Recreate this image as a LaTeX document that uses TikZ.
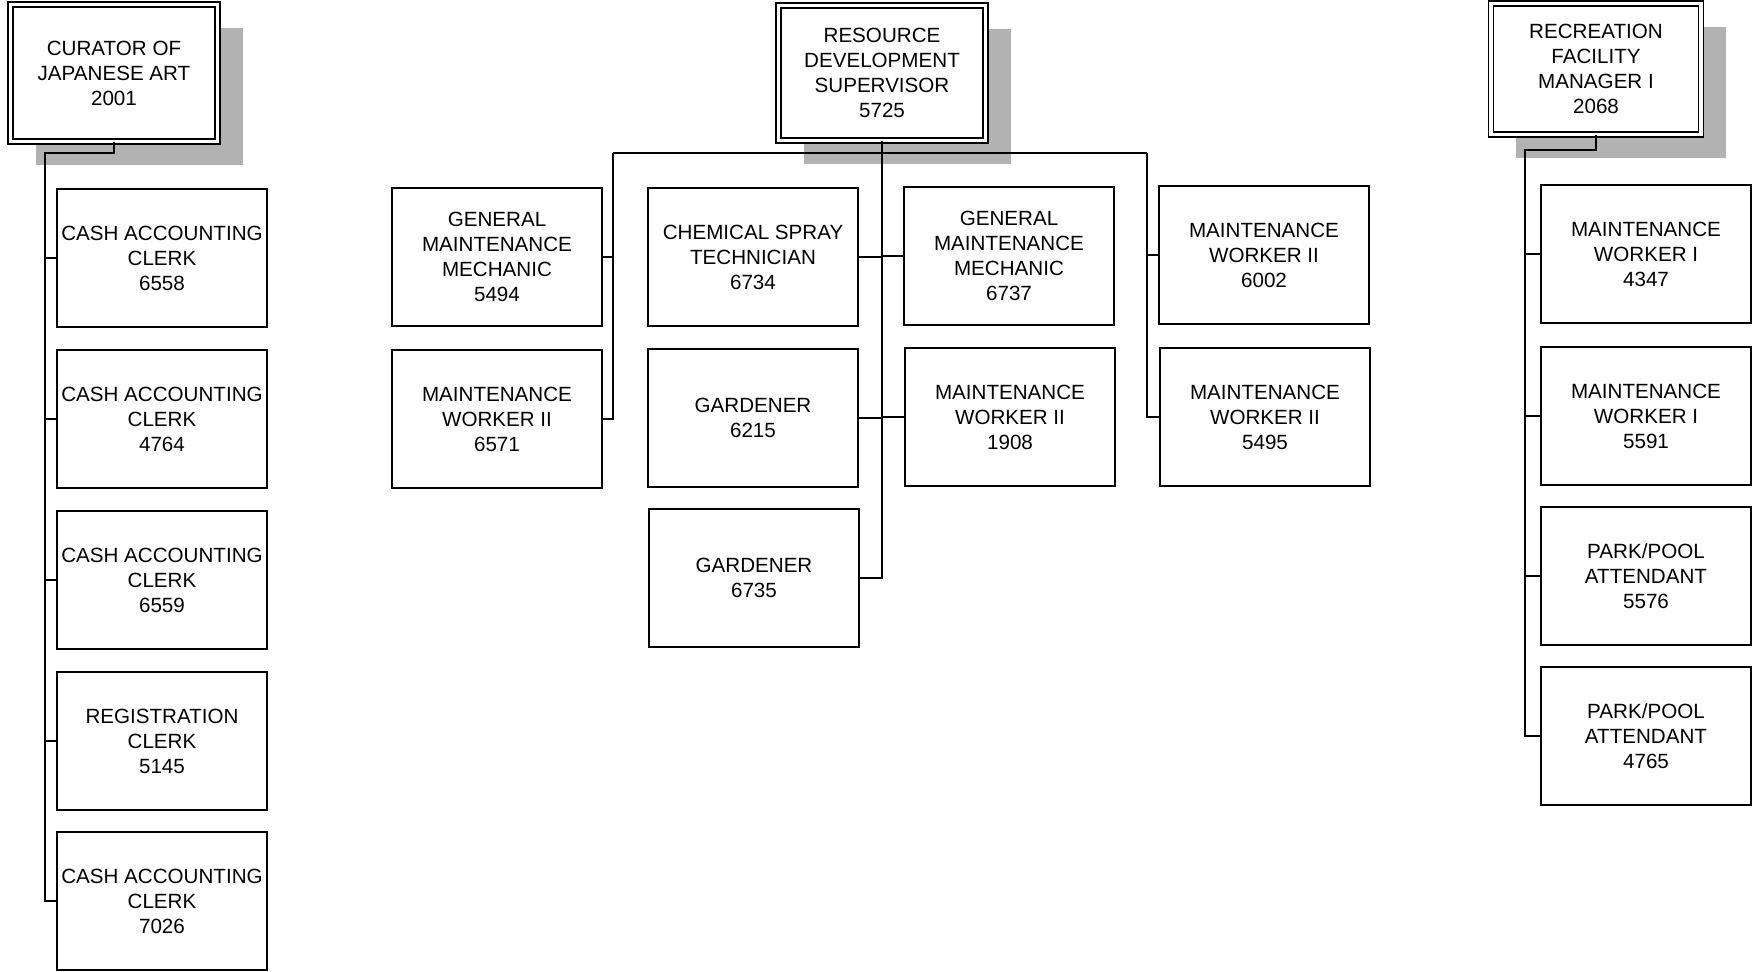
\documentclass[tikz,border=0pt]{standalone}
\usepackage{fontspec}
\setmainfont{Liberation Sans}
\usetikzlibrary{shadows}

\begin{document}
\begin{tikzpicture}[x=0.5pt,y=-0.5pt,line width=0.65pt,font=\fontsize{10.3}{12.5}\selectfont]
\tikzstyle{head}=[draw,double,double distance=1.9pt,line width=0.6pt,fill=white,align=center,inner sep=0pt,
  drop shadow={shadow xshift=12.5pt,shadow yshift=-11.5pt,fill=gray!60,opacity=1}]
\tikzstyle{job}=[draw,fill=white,align=center,minimum width=105pt,minimum height=69pt,inner sep=0pt]
\useasboundingbox (0,0) rectangle (1763,971);
% heads
\node[head,minimum width=103.5pt,minimum height=68.5pt] (curator) at (114,73) {CURATOR OF\\JAPANESE ART\\2001};
\node[head,minimum width=103.5pt,minimum height=67.5pt] (resdev) at (882,73) {RESOURCE\\DEVELOPMENT\\SUPERVISOR\\5725};
\node[head,minimum width=105pt,minimum height=65.5pt] (recmgr) at (1596,69) {RECREATION\\FACILITY\\MANAGER I\\2068};
% left branch
\foreach \i/\y/\t in {1/258/{CASH ACCOUNTING\\CLERK\\6558},2/419/{CASH ACCOUNTING\\CLERK\\4764},
  3/580/{CASH ACCOUNTING\\CLERK\\6559},4/741/{REGISTRATION\\CLERK\\5145},5/901/{CASH ACCOUNTING\\CLERK\\7026}}
  \node[job] (cl\i) at (162,\y) {\t};
\coordinate (lt) at (45,153);
\draw (curator.south) |- (lt) |- (cl5.west);
\foreach \i in {1,...,4} \draw (lt |- cl\i.west) -- (cl\i.west);
% middle branch
\node[job] (ma1) at (497,257) {GENERAL\\MAINTENANCE\\MECHANIC\\5494};
\node[job] (ma2) at (497,419) {MAINTENANCE\\WORKER II\\6571};
\node[job] (mb1) at (753,257) {CHEMICAL SPRAY\\TECHNICIAN\\6734};
\node[job] (mb2) at (753,418) {GARDENER\\6215};
\node[job] (mb3) at (754,578) {GARDENER\\6735};
\node[job] (mc1) at (1009,256) {GENERAL\\MAINTENANCE\\MECHANIC\\6737};
\node[job] (mc2) at (1010,417) {MAINTENANCE\\WORKER II\\1908};
\node[job] (md1) at (1264,255) {MAINTENANCE\\WORKER II\\6002};
\node[job] (md2) at (1265,417) {MAINTENANCE\\WORKER II\\5495};
\coordinate (ml) at (613,153);
\coordinate (mr) at (1147,153);
\draw (ml) -- (mr);
\draw (resdev.south) -- (resdev.south |- mb3.east) -- (mb3.east);
\draw (ml) |- (ma2.east);
\draw (ma1.east) -- (ml |- ma1.east);
\foreach \i in {1,2} {
 \draw (mb\i.east) -- (resdev.south |- mb\i.east);
 \draw (resdev.south |- mc\i.west) -- (mc\i.west);
}
\draw (mr) |- (md2.west);
\draw (mr |- md1.west) -- (md1.west);
% right branch
\foreach \i/\y/\t in {1/254/{MAINTENANCE\\WORKER I\\4347},2/416/{MAINTENANCE\\WORKER I\\5591},
  3/576/{PARK/POOL\\ATTENDANT\\5576},4/736/{PARK/POOL\\ATTENDANT\\4765}}
  \node[job] (rw\i) at (1646,\y) {\t};
\coordinate (rt) at (1525,150);
\draw (recmgr.south) |- (rt) |- (rw4.west);
\foreach \i in {1,...,3} \draw (rt |- rw\i.west) -- (rw\i.west);
\end{tikzpicture}
\end{document}
